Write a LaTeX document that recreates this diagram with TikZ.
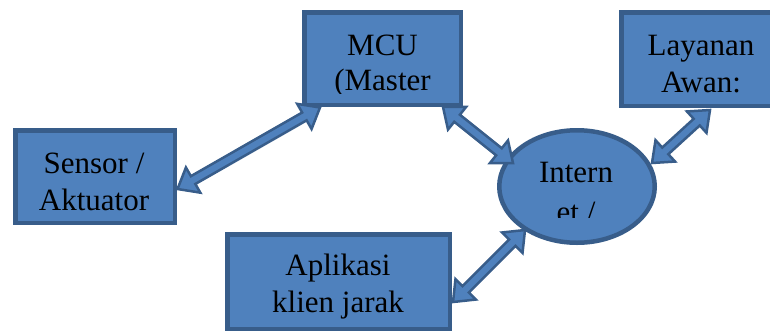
\documentclass[tikz,border=0pt]{standalone}
\usepackage{fontspec}
\setmainfont{Liberation Serif}
\usetikzlibrary{calc,shapes.geometric}
\definecolor{boxfill}{HTML}{4F81BD}
\definecolor{boxline}{HTML}{385D8A}
\tikzset{
  boxshape/.style={draw=boxline, fill=boxfill, line width=4.5pt},
  txt/.style={anchor=base, inner sep=0pt, font=\fontsize{31}{37}\selectfont, text=black},
  blockarr/.style={draw=boxline, fill=boxfill, line width=2.5pt, line join=miter}
}
\newcommand\dblarrow[2]{%
  \path[blockarr]
    (#1)
    -- ($(#1)!18pt!(#2)!14.5pt!90:(#2)$)
    -- ($(#1)!18pt!(#2)!4.5pt!90:(#2)$)
    -- ($(#2)!18pt!(#1)!4.5pt!-90:(#1)$)
    -- ($(#2)!18pt!(#1)!14.5pt!-90:(#1)$)
    -- (#2)
    -- ($(#2)!18pt!(#1)!14.5pt!90:(#1)$)
    -- ($(#2)!18pt!(#1)!4.5pt!90:(#1)$)
    -- ($(#1)!18pt!(#2)!4.5pt!-90:(#2)$)
    -- ($(#1)!18pt!(#2)!14.5pt!-90:(#2)$)
    -- cycle;}
\begin{document}
\begin{tikzpicture}[x=1pt, y=-1pt]
\useasboundingbox (0,0) rectangle (770,333);
\clip (0,0) rectangle (770,333);
% boxes
\node[boxshape, minimum width=156.5pt, minimum height=92.5pt, inner sep=0pt] (mcu) at (382.5,58.5) {};
\node[boxshape, minimum width=166pt, minimum height=93.5pt, inner sep=0pt] (cloud) at (704.25,59) {};
\node[boxshape, minimum width=159.5pt, minimum height=92.5pt, inner sep=0pt] (sensor) at (95,176.5) {};
\node[boxshape, minimum width=222.5pt, minimum height=94.5pt, inner sep=0pt] (app) at (338.5,281.5) {};
\node[boxshape, ellipse, minimum width=155.5pt, minimum height=112.5pt, inner sep=0pt] (net) at (577,186.5) {};
% texts
\node[txt] (mcuA) at (382.5,55) {MCU};
\begin{scope}
  \clip (300,60) rectangle (465,93.5);
  \node[txt] (mcuB) at (382.5,90) {(Master};
\end{scope}
\node[txt] (cloudA) at (701,55) {Layanan};
\node[txt] (cloudB) at (701,92) {Awan:};
\node[txt] (sensorA) at (94,173) {Sensor /};
\node[txt] (sensorB) at (94,210) {Aktuator};
\node[txt] (appA) at (338,275) {Aplikasi};
\node[txt] (appB) at (338,312) {klien jarak};
\node[txt] (netA) at (576,182) {Intern};
\begin{scope}
  \clip (500,190) rectangle (660,217);
  \node[txt] (netB) at (576,222) {et /};
\end{scope}
% arrow tips
\coordinate (s1) at (177.5,189);
\coordinate (m1) at (320,107.5);
\coordinate (m2) at (443,107);
\coordinate (n1) at (513,163);
\coordinate (c1) at (710,110);
\coordinate (n2) at (652,163);
\coordinate (n3) at (525,230);
\coordinate (a1) at (453,302);
\dblarrow{s1}{m1}
\dblarrow{m2}{n1}
\dblarrow{c1}{n2}
\dblarrow{n3}{a1}
\end{tikzpicture}
\end{document}
